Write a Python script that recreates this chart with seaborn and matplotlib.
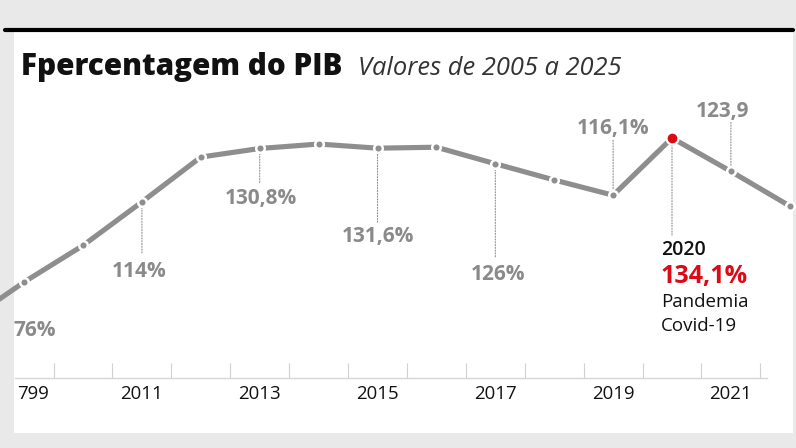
import numpy as np
import matplotlib
matplotlib.use("Agg")
import matplotlib.pyplot as plt
import seaborn as sns
import pandas as pd

# dados (percentagem do PIB)
anos = [2008, 2009, 2010, 2011, 2012, 2013, 2014, 2015, 2016, 2017, 2018, 2019, 2020, 2021, 2022]
valores = [76.0, 88.8, 100.3, 114.0, 128.1, 130.8, 132.2, 130.9, 131.2, 126.0, 120.9, 116.1, 134.1, 123.6, 112.7]

# rótulos do eixo x
anos_rotulo = [2011, 2013, 2015, 2017, 2019, 2021]
textos_rotulo = ["2011", "2013", "2015", "2017", "2019", "2021"]

# anotações: ano, texto, deslocamento do texto (px), comprimento da linha pontilhada (px)
anot_anos = [2008, 2011, 2013, 2015, 2017, 2019, 2021]
anot_textos = ["76%", "114%", "130,8%", "131,6%", "126%", "116,1%", "123,9"]
anot_dx = [70, -3, 1, 0, 3, 0, -8]
anot_dy = [-13, -75, -56, -94, -116, 61, 54]
anot_linha = [0, -51, -34, -74, -93, 55, 49]

ano_destaque = 2020

W, H = 796, 448
CINZA = "#8e8e8e"
TXT_CINZA = "#8a8a8a"
VERMELHO = "#dc0a16"

sns.set_theme(style="white")
plt.rcParams["font.family"] = ["Open Sans", "DejaVu Sans"]

fig = plt.figure(figsize=(W / 100, H / 100), dpi=100, facecolor="#e9e9e9")

# cartão branco e filete preto
fig.add_artist(plt.Rectangle((14 / W, 1 - 433 / H), (793 - 14) / W, (433 - 31) / H,
                             transform=fig.transFigure, facecolor="white", edgecolor="none", zorder=0))
fig.add_artist(plt.Line2D([5 / W, 793 / W], [1 - 30 / H, 1 - 30 / H], transform=fig.transFigure,
                          color="black", linewidth=3, zorder=1))

fig.text(21 / W, 1 - 75 / H, "Fpercentagem do PIB", fontsize=21.3, fontweight="heavy",
         color="#111111", va="baseline", ha="left")
fig.text(358 / W, 1 - 75 / H, "Valores de 2005 a 2025", fontsize=18.35, fontstyle="italic",
         color="#333333", va="baseline", ha="left")

ax = fig.add_axes([15 / W, 1 - 378 / H, (767 - 15) / W, (378 - 32) / H])
ax.set_facecolor("none")

df = pd.DataFrame({"ano": anos, "valor": valores})
sns.lineplot(data=df, x="ano", y="valor", ax=ax, color=CINZA, linewidth=3.7,
             marker="o", markersize=6.2, markerfacecolor=CINZA, markeredgecolor="white",
             markeredgewidth=1.8, clip_on=False, zorder=3)

dest = df[df["ano"] == ano_destaque]
sns.scatterplot(data=dest, x="ano", y="valor", ax=ax, color=VERMELHO, s=74,
                edgecolor="white", linewidth=1.6, zorder=5, clip_on=False, legend=False)

ax.set_xlim(2008.845, 2021.613)
ax.set_ylim(58.63, 167.43)

for a, t, dx, dy, ln in zip(anot_anos, anot_textos, anot_dx, anot_dy, anot_linha):
    v = df.loc[df["ano"] == a, "valor"].iloc[0]
    ax.annotate(t, xy=(a, v), xytext=(dx, dy), textcoords="offset pixels",
                ha="center", va="baseline", fontsize=15, fontweight="bold",
                color=TXT_CINZA, annotation_clip=False, zorder=4)
    if ln != 0:
        ax.annotate("", xy=(a, v), xytext=(0, ln), textcoords="offset pixels",
                    arrowprops=dict(arrowstyle="-", linestyle=(0, (1, 1.5)), color="#909090",
                                    lw=0.8, shrinkA=0, shrinkB=0), zorder=2)

# bloco da pandemia
v20 = dest["valor"].iloc[0]
ax.annotate("", xy=(ano_destaque, v20), xytext=(0, -97), textcoords="offset pixels",
            arrowprops=dict(arrowstyle="-", linestyle=(0, (1, 1.5)), color="#909090",
                            lw=0.8, shrinkA=0, shrinkB=0), zorder=2)
ax.annotate("2020", xy=(ano_destaque, v20), xytext=(-11, -117), textcoords="offset pixels",
            ha="left", va="baseline", fontsize=14, fontweight="semibold", color="#111111")
ax.annotate("134,1%", xy=(ano_destaque, v20), xytext=(-11, -145), textcoords="offset pixels",
            ha="left", va="baseline", fontsize=18, fontweight="bold", color=VERMELHO)
ax.annotate("Pandemia", xy=(ano_destaque, v20), xytext=(-11, -169), textcoords="offset pixels",
            ha="left", va="baseline", fontsize=13.5, color="#111111")
ax.annotate("Covid-19", xy=(ano_destaque, v20), xytext=(-11, -193), textcoords="offset pixels",
            ha="left", va="baseline", fontsize=13.5, color="#111111")

# eixo x
for s in ["left", "right", "top"]:
    ax.spines[s].set_visible(False)
ax.spines["bottom"].set_color("#d6d6d6")
ax.spines["bottom"].set_linewidth(1)
ax.set_xticks(np.arange(2009.5, 2022, 1.0))
ax.set_xticklabels([])
ax.set_yticks([])
ax.tick_params(axis="x", direction="in", length=10.8, width=0.8, color="#d0d0d0", bottom=True)
ax.set_xlabel("")
ax.set_ylabel("")

trans = ax.get_xaxis_transform()
for a, t in zip(anos_rotulo, textos_rotulo):
    ax.text(a, -21 / 346, t, transform=trans, ha="center", va="baseline",
            fontsize=13.4, color="#111111")
fig.text(17 / W, 1 - 399 / H, "799", ha="left", va="baseline", fontsize=13.4, color="#111111")

fig.savefig("out.png", dpi=100, facecolor=fig.get_facecolor())
